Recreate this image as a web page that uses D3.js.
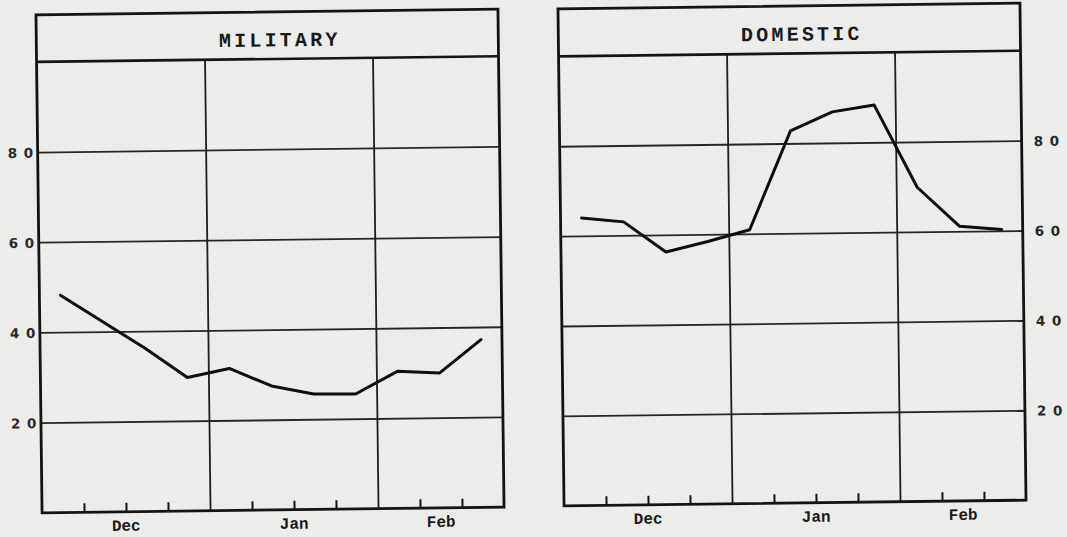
<!DOCTYPE html>
<html>
<head>
<meta charset="utf-8">
<script src="https://cdn.jsdelivr.net/npm/d3@7"></script>
<style>
  html, body { margin: 0; padding: 0; background: #ececea; }
  svg { display: block; }
</style>
</head>
<body>
<svg id="chart" width="1067" height="537"></svg>
<script>
// Weekly series, Dec through Feb (11 weeks)
const monthNames = ["Dec", "Jan", "Feb"];
const monthWeeks = [4, 4, 3];
const yTicks = [20, 40, 60, 80];
const military = [48.2, 42.2, 36.2, 29.6, 31.5, 27.5, 25.6, 25.5, 30.4, 29.9, 37.2];
const domestic = [64.0, 63.0, 56.2, 58.4, 60.9, 82.8, 86.9, 88.3, 69.9, 61.1, 60.3];

const nWeeks = d3.sum(monthWeeks);
const monthStarts = monthWeeks.map((w, i) => d3.sum(monthWeeks.slice(0, i)));
const dividers = monthStarts.slice(1);
const weekTicks = d3.range(1, nWeeks).filter(w => !dividers.includes(w));

const svg = d3.select("#chart");
const ink = "#141414";

const panels = [
  { title: "MILITARY", values: military, left: 39, right: 501, top: 12, head: 59, base: 510, labelX: 9 },
  { title: "DOMESTIC", values: domestic, left: 561, right: 1023, top: 6, head: 53.5, base: 503, labelX: 1035 }
];

panels.forEach(p => {
  const cx = (p.left + p.right) / 2, cy = (p.top + p.base) / 2;
  const g = svg.append("g").attr("transform", `rotate(-0.7, ${cx}, ${cy})`);

  const x = d3.scaleLinear().domain([0, nWeeks]).range([p.left, p.right]);
  const y = d3.scaleLinear().domain([0, 100]).range([p.base, p.head]);

  // horizontal grid
  g.append("g")
    .attr("transform", `translate(${p.left},0)`)
    .call(d3.axisRight(y).tickValues(yTicks).tickSize(p.right - p.left).tickFormat(""))
    .call(a => a.select(".domain").remove())
    .call(a => a.selectAll("line").attr("stroke", "#262626").attr("stroke-width", 1.8));

  // month dividers
  g.append("g")
    .attr("transform", `translate(0,${p.base})`)
    .call(d3.axisBottom(x).tickValues(dividers).tickSize(-(p.base - p.head)).tickFormat(""))
    .call(a => a.select(".domain").remove())
    .call(a => a.selectAll("line").attr("stroke", "#1e1e1e").attr("stroke-width", 1.8));

  // weekly ticks along the base
  g.append("g")
    .attr("transform", `translate(0,${p.base})`)
    .call(d3.axisBottom(x).tickValues(weekTicks).tickSize(-9).tickFormat(""))
    .call(a => a.select(".domain").remove())
    .call(a => a.selectAll("line").attr("stroke", ink).attr("stroke-width", 2));

  // frame and header
  g.append("rect")
    .attr("x", p.left).attr("y", p.top)
    .attr("width", p.right - p.left).attr("height", p.base - p.top)
    .attr("fill", "none").attr("stroke", ink).attr("stroke-width", 2.8);
  g.append("line")
    .attr("x1", p.left).attr("x2", p.right).attr("y1", p.head).attr("y2", p.head)
    .attr("stroke", ink).attr("stroke-width", 2.6);

  g.append("text")
    .attr("x", cx + 12.5).attr("y", (p.top + p.head) / 2 + 11)
    .attr("text-anchor", "middle")
    .attr("font-family", "Liberation Mono, monospace")
    .attr("font-weight", "bold")
    .attr("font-size", 20)
    .attr("letter-spacing", 3.2)
    .attr("fill", "#1a1a1a")
    .text(p.title);

  // value labels, digits set apart like the typed originals
  const yl = g.selectAll("text.yl").data(yTicks).join("text")
    .attr("class", "yl")
    .attr("y", d => y(d) + 5.5)
    .attr("font-family", "DejaVu Sans, sans-serif")
    .attr("font-weight", "bold")
    .attr("font-size", 13.5)
    .attr("fill", "#2a2a2a");
  yl.selectAll("tspan").data(d => String(d).split("")).join("tspan")
    .attr("x", (c, j) => p.labelX + j * 16)
    .text(c => c);

  // month names
  g.selectAll("text.ml").data(monthNames).join("text")
    .attr("class", "ml")
    .attr("x", (d, i) => x(monthStarts[i] + monthWeeks[i] / 2))
    .attr("y", p.base + 19)
    .attr("text-anchor", "middle")
    .attr("font-family", "Liberation Mono, monospace")
    .attr("font-weight", "bold")
    .attr("font-size", 16)
    .attr("fill", "#1a1a1a")
    .text(d => d);

  // series line
  const line = d3.line().x((d, i) => x(i + 0.5)).y(d => y(d));
  g.append("path")
    .datum(p.values)
    .attr("d", line)
    .attr("fill", "none")
    .attr("stroke", "#0e0e0e")
    .attr("stroke-width", 3)
    .attr("stroke-linejoin", "round")
    .attr("stroke-linecap", "round");
});
</script>
</body>
</html>
